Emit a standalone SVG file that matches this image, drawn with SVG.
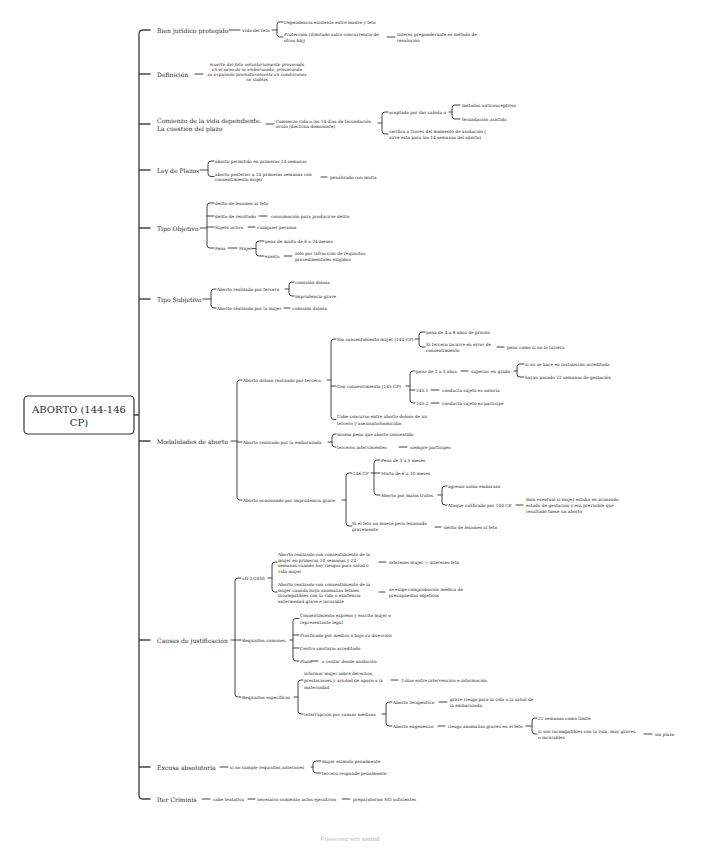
<svg xmlns="http://www.w3.org/2000/svg" width="701" height="848" viewBox="0 0 701 848">
<style>
text{font-family:"DejaVu Serif","Liberation Serif",serif;fill:#2b2b2b;dominant-baseline:central}
.r{font-size:10px;text-anchor:middle}
.m{font-size:6.1px}
.s{font-size:4.3px}
.i{font-size:4.3px;font-style:italic;text-anchor:middle}
.c path{fill:none;stroke:#444;stroke-width:1;stroke-linecap:round}
.c .sp{stroke-width:1.4}
.wm{font-family:"Liberation Sans",Arial,sans-serif;font-size:6px;fill:#c4c4c4;text-anchor:middle}
</style>
<rect width="701" height="848" fill="#fff"/>
<g id="connectors" class="c">
<path class="sp" d="M134,415 H139 M150,30 H143 Q139,30 139,34 V795 Q139,799 143,799 H150 M139,74 H150 M139,124 H150 M139,170 H150 M139,228 H150 M139,299 H150 M139,441 H150 M139,640 H150 M139,767 H150"/>
<path d="M229,30 H240 M272,30 H277 M283,22 H279.5 Q277,22 277,24.5 V34.5 Q277,37 279.5,37 H283 M387,37 H395"/>
<path d="M195,74 H203"/>
<path d="M266,124 H274 M378,123 H382 M388,112 H385 Q382,112 382,115 V131 Q382,134 385,134 H388 M449,112 H452 M460,105 H455 Q452,105 452,108 V116 Q452,119 455,119 H460"/>
<path d="M200,170 H208 M214,161 H211 Q208,161 208,164 V173.5 Q208,176.5 211,176.5 H214 M321,177 H327"/>
<path d="M200,228 H207 M214,203 H210 Q207,203 207,206 V245 Q207,248 210,248 H214 M207,216 H214 M207,227 H214 M259,216 H267 M248,227 H255 M228,248 H237 M252,248.5 H256 M264,241 H259 Q256,241 256,244 V253 Q256,256 259,256 H264 M284,256 H292"/>
<path d="M203,299 H211 M216,289 H214 Q211,289 211,292 V305 Q211,308 214,308 H216 M285,289 H289 M294,282 H292 Q289,282 289,285 V293 Q289,296 292,296 H294 M284,308 H290"/>
<path d="M231,441 H237 M242,380 H240 Q237,380 237,383 V497 Q237,500 240,500 H242 M237,442 H242"/>
<path d="M327,380 H331 M336,339 H334 Q331,339 331,342 V416.5 Q331,419.5 334,419.5 H336 M331,386 H336 M415,339 H419 M425,332 H422 Q419,332 419,335 V344 Q419,347 422,347 H425 M497,347 H504"/>
<path d="M406,386 H410 M415,371 H413 Q410,371 410,374 V400 Q410,403 413,403 H415 M410,390 H415 M461,371 H468 M514,371 H517 M524,364 H520 Q517,364 517,367 V374 Q517,377 520,377 H524 M431,390 H439 M431,403 H439"/>
<path d="M328,442 H332 M336,434 H335 Q332,434 332,437 V444 Q332,447 335,447 H336 M399,447 H407"/>
<path d="M342,500 H346 M352,473 H349 Q346,473 346,476 V523 Q346,526 349,526 H352 M371,473 H374 M380,460 H377 Q374,460 374,463 V492 Q374,495 377,495 H380 M374,473 H380 M438,495 H442 M447,486 H445 Q442,486 442,489 V502 Q442,505 445,505 H447 M516,505 H523 M435,527 H441"/>
<path d="M231,640 H235 M241,578 H238 Q235,578 235,581 V694 Q235,697 238,697 H241 M235,640 H241"/>
<path d="M268,578 H272 M277,562 H275 Q272,562 272,565 V589 Q272,592 275,592 H277 M379,562 H386 M379,592 H385"/>
<path d="M290,640 H293 M299,618.5 H296 Q293,618.5 293,621.5 V658 Q293,661 296,661 H299 M293,635 H299 M293,648 H299 M311,661 H318"/>
<path d="M294,697 H298 M303,680 H301 Q298,680 298,683 V711 Q298,714 301,714 H303 M391,680 H398 M382,714 H386 M392,702 H389 Q386,702 386,705 V723 Q386,726 389,726 H392 M439,702 H447 M438,726 H445 M526,726 H532 M537,718 H535 Q532,718 532,721 V731 Q532,734 535,734 H537 M644,734 H652"/>
<path d="M220,767 H228 M311,767 H313 M321,761 H316 Q313,761 313,764 V770 Q313,773 316,773 H321"/>
<path d="M202,799 H210 M248,799 H255 M342,799 H350"/>
</g>
<g id="root"><rect x="24" y="396" width="110" height="38" rx="4" fill="#fff" stroke="#333" stroke-width="1.2"/><text class="r" x="79" y="409">ABORTO (144-146</text><text class="r" x="79" y="422">CP)</text></g>
<g id="bien"><text class="m" x="157" y="30">Bien jurídico protegido</text></g>
<g id="vida"><text class="s" x="242" y="30">Vida del feto</text></g>
<g id="dependencia"><text class="s" x="284" y="22">Dependencia existente entre madre y feto</text></g>
<g id="proteccion"><text class="s" x="284" y="34.5">Protección (ilimitado salvo concurrencia de<tspan x="284" dy="5">otros bbj)</tspan></text></g>
<g id="interes"><text class="s" x="397" y="34.5">Interés preponderante es método de<tspan x="397" dy="5">resolución</tspan></text></g>
<g id="definicion"><text class="m" x="157" y="74">Definición</text></g>
<g id="def-texto"><text class="i" x="257" y="64.5">muerte del feto voluntariamente provocada<tspan x="257" dy="4.7">en el seno de la embarazada, provocando</tspan><tspan x="257" dy="4.7">su expulsión prematuramente en condiciones</tspan><tspan x="257" dy="4.7">no viables</tspan></text></g>
<g id="comienzo"><text class="m" x="157" y="120">Comienzo de la vida dependiente.<tspan x="157" dy="8">La cuestión del plazo</tspan></text></g>
<g id="comienzo-vida"><text class="s" x="276" y="121">Comienzo vida a los 14 días de fecundación<tspan x="276" dy="5">óvulo (doctrina dominante)</tspan></text></g>
<g id="aceptada"><text class="s" x="389" y="112">aceptada por dar cabida a</text></g>
<g id="metodos"><text class="s" x="462" y="105">métodos anticonceptivos</text></g>
<g id="fecundacion"><text class="s" x="462" y="119">fecundación asistida</text></g>
<g id="verifica"><text class="s" x="389" y="131.5">verifica a través del momento de anidación (<tspan x="389" dy="5">sirve ésto para las 14 semanas del aborto)</tspan></text></g>
<g id="ley"><text class="m" x="157" y="170">Ley de Plazos</text></g>
<g id="permitido"><text class="s" x="215" y="161">aborto permitido en primeras 14 semanas</text></g>
<g id="posterior"><text class="s" x="215" y="174">aborto posterior a 14 primeras semanas con<tspan x="215" dy="5">consentimiento mujer</tspan></text></g>
<g id="penalizado"><text class="s" x="330" y="177">penalizado con multa</text></g>
<g id="tipo-objetivo"><text class="m" x="157" y="228">Tipo Objetivo</text></g>
<g id="lesiones"><text class="s" x="215" y="203">delito de lesiones al feto</text></g>
<g id="resultado"><text class="s" x="215" y="216">delito de resultado</text></g>
<g id="consumacion"><text class="s" x="271" y="216">consumación para producirse delito</text></g>
<g id="sujeto"><text class="s" x="215" y="227">Sujeto activo</text></g>
<g id="cualquier"><text class="s" x="257" y="227">cualquier persona</text></g>
<g id="pena"><text class="s" x="215" y="248">Pena</text></g>
<g id="mujer"><text class="s" x="239" y="248">Mujer</text></g>
<g id="multa"><text class="s" x="265" y="241">pena de multa de 6 a 24 meses</text></g>
<g id="exenta"><text class="s" x="265" y="256">exenta</text></g>
<g id="infraccion"><text class="s" x="295" y="253.5">solo por infracción de requisitos<tspan x="295" dy="5.5">procedimentales exigidos</tspan></text></g>
<g id="tipo-subjetivo"><text class="m" x="157" y="299">Tipo Subjetivo</text></g>
<g id="subj-tercero"><text class="s" x="217" y="289">Aborto realizado por tercero</text></g>
<g id="comision1"><text class="s" x="295" y="282">comisión dolosa</text></g>
<g id="imprudencia1"><text class="s" x="295" y="296">imprudencia grave</text></g>
<g id="subj-mujer"><text class="s" x="217" y="308">Aborto realizado por la mujer</text></g>
<g id="comision2"><text class="s" x="292" y="308">comisión dolosa</text></g>
<g id="modalidades"><text class="m" x="157" y="441">Modalidades de aborto</text></g>
<g id="doloso"><text class="s" x="243" y="380">Aborto doloso realizado por tercero</text></g>
<g id="sin-consentimiento"><text class="s" x="337" y="339">Sin consentimiento mujer (144 CP)</text></g>
<g id="pena-4-8"><text class="s" x="426" y="332">pena de 4 a 8 años de prisión</text></g>
<g id="error"><text class="s" x="426" y="344">Si tercero incurre en error de<tspan x="426" dy="6">consentimiento</tspan></text></g>
<g id="como-si"><text class="s" x="507" y="347">pena como si no lo tuviera</text></g>
<g id="con-consentimiento"><text class="s" x="337" y="386">Con consentimiento (145 CP)</text></g>
<g id="pena-1-3"><text class="s" x="416" y="371">pena de 1 a 3 años</text></g>
<g id="superior"><text class="s" x="471" y="371">superior en grado</text></g>
<g id="instalacion"><text class="s" x="525" y="364">si no se hace en instalación acreditada</text></g>
<g id="hayan"><text class="s" x="525" y="377">hayan pasado 22 semanas de gestación</text></g>
<g id="n145-1"><text class="s" x="416" y="390">145.1</text></g>
<g id="autoria"><text class="s" x="442" y="390">conducta sujeto es autoría</text></g>
<g id="n145-2"><text class="s" x="416" y="403">145.2</text></g>
<g id="participe"><text class="s" x="442" y="403">conducta sujeto es partícipe</text></g>
<g id="concurso"><text class="s" x="337" y="416.5">Cabe concurso entre aborto doloso de un<tspan x="337" dy="6">tercero y asesinato/homicidio</tspan></text></g>
<g id="embarazada"><text class="s" x="243" y="442">Aborto realizado por la embarazada</text></g>
<g id="misma"><text class="s" x="337" y="434">misma pena que aborto consentido</text></g>
<g id="terceros"><text class="s" x="337" y="447">terceros intervinientes</text></g>
<g id="siempre"><text class="s" x="410" y="447">siempre partícipes</text></g>
<g id="imprudencia"><text class="s" x="243" y="500">Aborto ocasionado por imprudencia grave</text></g>
<g id="cp146"><text class="s" x="353" y="473">146 CP</text></g>
<g id="pena-3-5"><text class="s" x="381" y="460">Pena de 3 a 5 meses</text></g>
<g id="multa-6-10"><text class="s" x="381" y="473">Multa de 6 a 10 meses</text></g>
<g id="malos-tratos"><text class="s" x="381" y="495">Aborto por malos tratos</text></g>
<g id="agresor"><text class="s" x="448" y="486">agresor sabía embarazo</text></g>
<g id="ataque"><text class="s" x="448" y="505">Ataque calificado por 144 CP</text></g>
<g id="dolo"><text class="s" x="526" y="499">dolo eventual si mujer estaba en avanzado<tspan x="526" dy="6">estado de gestación y era previsible que</tspan><tspan x="526" dy="6">resultado fuese un aborto</tspan></text></g>
<g id="no-muere"><text class="s" x="352" y="523">Si el feto no muere pero lesionado<tspan x="352" dy="6">gravemente</tspan></text></g>
<g id="lesiones2"><text class="s" x="444" y="527">delito de lesiones al feto</text></g>
<g id="causas"><text class="m" x="157" y="640">Causas de justificación</text></g>
<g id="lo"><text class="s" x="242" y="578">LO 2/2010</text></g>
<g id="lo-1"><text class="s" x="278" y="554">Aborto realizado con consentimiento de la<tspan x="278" dy="5.5">mujer en primeras 14 semanas y 22</tspan><tspan x="278" dy="5.5">semanas cuando hay riesgos para salud o</tspan><tspan x="278" dy="5.5">vida mujer</tspan></text></g>
<g id="intereses"><text class="s" x="389" y="562">intereses mujer &gt; intereses feto</text></g>
<g id="lo-2"><text class="s" x="278" y="584">Aborto realizado con consentimiento de la<tspan x="278" dy="5.5">mujer cuando haya anomalías fetales</tspan><tspan x="278" dy="5.5">incompatibles con la vida o existencia</tspan><tspan x="278" dy="5.5">enfermedad grave e incurable</tspan></text></g>
<g id="exige"><text class="s" x="389" y="589">se exige comprobación médica de<tspan x="389" dy="6">presupuestos objetivos</tspan></text></g>
<g id="comunes"><text class="s" x="242" y="640">Requisitos comunes</text></g>
<g id="expreso"><text class="s" x="300" y="615.5">Consentimiento expreso y escrito mujer o<tspan x="300" dy="6">representante legal</tspan></text></g>
<g id="medico"><text class="s" x="300" y="635">Practicado por médico o bajo su dirección</text></g>
<g id="centro"><text class="s" x="300" y="648">Centro sanitario acreditado</text></g>
<g id="plazo"><text class="s" x="300" y="661">Plazo</text></g>
<g id="anidacion"><text class="s" x="322" y="661">a contar desde anidación</text></g>
<g id="especificos"><text class="s" x="242" y="697">Requisitos específicos</text></g>
<g id="informar"><text class="s" x="304" y="673.5">informar mujer sobre derechos,<tspan x="304" dy="6.5">prestaciones y ayudad de apoyo a la</tspan><tspan x="304" dy="6.5">maternidad</tspan></text></g>
<g id="tres-dias"><text class="s" x="401" y="680">3 días entre intervención e información</text></g>
<g id="interrupcion"><text class="s" x="304" y="714">Interrupción por causas médicas</text></g>
<g id="terapeutico"><text class="s" x="393" y="702">Aborto terapéutico</text></g>
<g id="grave-riesgo"><text class="s" x="450" y="699">grave riesgo para la vida o la salud de<tspan x="450" dy="6">la embarazada</tspan></text></g>
<g id="eugenesico"><text class="s" x="393" y="726">Aborto eugenésico</text></g>
<g id="anomalias"><text class="s" x="448" y="726">riesgo anomalías graves en el feto</text></g>
<g id="limite"><text class="s" x="538" y="718">22 semanas como límite</text></g>
<g id="incompatibles"><text class="s" x="538" y="731">si son incompatibles con la vida, muy graves<tspan x="538" dy="6">o incurables</tspan></text></g>
<g id="sin-plazo"><text class="s" x="655" y="734">sin plazo</text></g>
<g id="excusa"><text class="m" x="157" y="767">Excusa absolutoria</text></g>
<g id="no-cumple"><text class="s" x="230" y="767">si no cumple requisitos anteriores</text></g>
<g id="eximida"><text class="s" x="322" y="761">mujer eximida penalmente</text></g>
<g id="responde"><text class="s" x="322" y="773">tercero responde penalmente</text></g>
<g id="iter"><text class="m" x="157" y="799">Iter Criminis</text></g>
<g id="tentativa"><text class="s" x="213" y="799">cabe tentativa</text></g>
<g id="necesario"><text class="s" x="257" y="799">necesario comienzo actos ejecutivos</text></g>
<g id="preparatorios"><text class="s" x="353" y="799">preparatorios NO suficientes</text></g>
<text class="wm" x="350" y="839">Presented with <tspan font-weight="bold">xmind</tspan></text>
</svg>
